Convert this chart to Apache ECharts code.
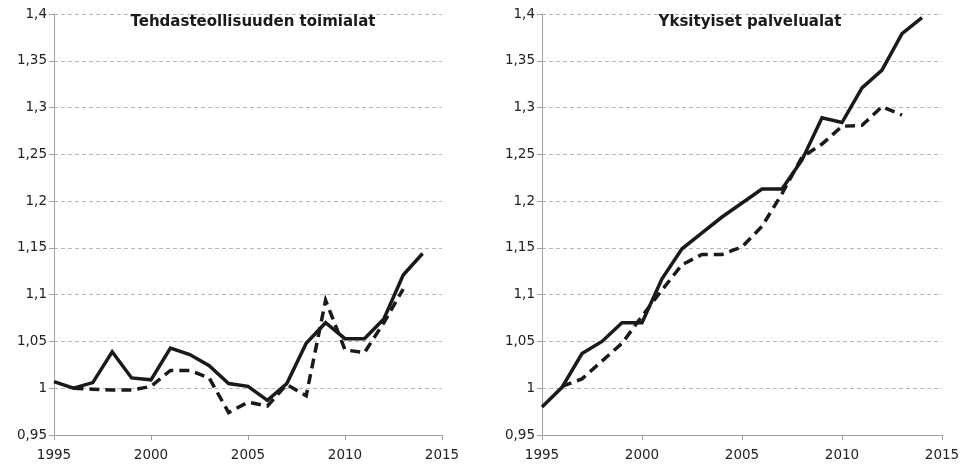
<!DOCTYPE html>
<html><head><meta charset="utf-8">
<script src="https://cdn.jsdelivr.net/npm/echarts@6/dist/echarts.min.js"></script>
<style>html,body{margin:0;padding:0;background:#fff}#c{width:964px;height:466px}</style>
</head><body><div id="c"></div>
<script>
const years = [1995,1996,1997,1998,1999,2000,2001,2002,2003,2004,2005,2006,2007,2008,2009,2010,2011,2012,2013,2014];
const titles = ['Tehdasteollisuuden toimialat', 'Yksityiset palvelualat'];
const yTicks = [0.95,1,1.05,1.1,1.15,1.2,1.25,1.3,1.35,1.4];
const xTicks = [1995,2000,2005,2010,2015];
// Manufacturing
const manuSolid  = [1.007,1.000,1.006,1.039,1.011,1.009,1.043,1.036,1.024,1.005,1.002,0.987,1.005,1.048,1.070,1.053,1.053,1.074,1.121,1.144];
const manuDashed = [null,1.000,0.999,0.998,0.998,1.002,1.019,1.019,1.011,0.974,0.985,0.981,1.004,0.992,1.094,1.041,1.038,1.070,1.106,null];
// Private services
const servSolid  = [0.980,1.001,1.037,1.050,1.070,1.070,1.117,1.149,1.166,1.183,1.198,1.213,1.213,1.244,1.289,1.284,1.321,1.340,1.379,1.396];
const servDashed = [null,1.002,1.010,1.029,1.048,1.077,1.105,1.132,1.143,1.143,1.151,1.173,1.208,1.247,1.261,1.280,1.281,1.301,1.292,null];

const FONT = 'DejaVu Sans';
const pairs = arr => years.map((y,i) => [y, arr[i]]);
const fmt = v => String(+(+v).toFixed(2)).replace('.', ',');

const grids = [
  {left:54, right:522, top:14, bottom:31},
  {left:542, right:22, top:14, bottom:31}
];
function xAxis(i){return {type:'value', gridIndex:i, min:xTicks[0], max:xTicks[xTicks.length-1], interval:5,
  axisLine:{show:true, lineStyle:{color:'#a0a0a0', width:1}},
  axisTick:{show:true, length:5, lineStyle:{color:'#a0a0a0'}},
  splitLine:{show:false},
  axisLabel:{color:'#222', fontFamily:FONT, fontSize:13.5, margin:13, formatter:v=>String(v)}};}
function yAxis(i){return {type:'value', gridIndex:i, min:yTicks[0], max:yTicks[yTicks.length-1], interval:0.05,
  axisLine:{show:true, lineStyle:{color:'#a0a0a0', width:1}},
  axisTick:{show:true, length:5, lineStyle:{color:'#a0a0a0'}},
  splitLine:{show:true, lineStyle:{color:'#b8b8b8', type:[4,3], width:1}},
  axisLabel:{color:'#222', fontFamily:FONT, fontSize:13.5, margin:7, formatter:fmt}};}
function line(i, arr, dashed){return {type:'line', xAxisIndex:i, yAxisIndex:i, data:pairs(arr), showSymbol:false, symbol:'none',
  connectNulls:false, lineStyle:{color:'#1a1a1a', width:3.5, type: dashed ? [10,6] : 'solid', cap:'butt', join:'miter'}, z: dashed?3:2, animation:false};}

const chart = echarts.init(document.getElementById('c'), null, {renderer:'canvas'});
chart.setOption({
  animation:false,
  title: titles.map((t,i) => ({text:t, left: i===0 ? 248 : 745, top:10, textAlign:'center',
    textStyle:{fontFamily:FONT, fontWeight:'bold', fontSize:15, color:'#1a1a1a'}})),
  grid: grids,
  xAxis: [xAxis(0), xAxis(1)],
  yAxis: [yAxis(0), yAxis(1)],
  series: [line(0, manuSolid, false), line(0, manuDashed, true), line(1, servSolid, false), line(1, servDashed, true)]
});
</script></body></html>
